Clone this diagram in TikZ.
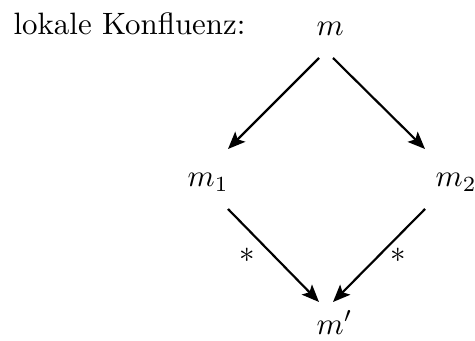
\documentclass[tikz,border=0pt]{standalone}
\usetikzlibrary{arrows.meta,calc}
\begin{document}
\begin{tikzpicture}[x=0.3236pt,y=-0.3236pt,
  lbl/.style={inner sep=0pt, anchor=base west},
  arr/.style={line width=0.7pt, -{Stealth[length=5.6pt,width=4.6pt,inset=1.2pt]}},
  star/.style={inner sep=0pt}]
\useasboundingbox (0,0) rectangle (475,341);
\node[lbl] (title) at (13,35) {lokale Konfluenz:};
\node[lbl] (m) at (316,36) {$m$};
\node[lbl] (m1) at (187,187) {$m_1$};
\node[lbl] (m2) at (435,187) {$m_2$};
\node[lbl] (mp) at (316,334) {$m'$};
\coordinate (s1) at ($(m.base west)+(3,22)$);
\coordinate (s2) at ($(m.base west)+(17,22)$);
\coordinate (e1) at ($(m1.base west)+(41,-38)$);
\coordinate (e2) at ($(m2.base west)+(-10,-38)$);
\coordinate (s3) at ($(m1.base west)+(41,22)$);
\coordinate (s4) at ($(m2.base west)+(-10,22)$);
\coordinate (e3) at ($(mp.base west)+(3,-32)$);
\coordinate (e4) at ($(mp.base west)+(17,-32)$);
\draw[arr] (s1) -- (e1);
\draw[arr] (s2) -- (e2);
\draw[arr] (s3) -- node[star, xshift=-8.6pt] {$*$} (e3);
\draw[arr] (s4) -- node[star, xshift=6.3pt] {$*$} (e4);
\end{tikzpicture}
\end{document}
